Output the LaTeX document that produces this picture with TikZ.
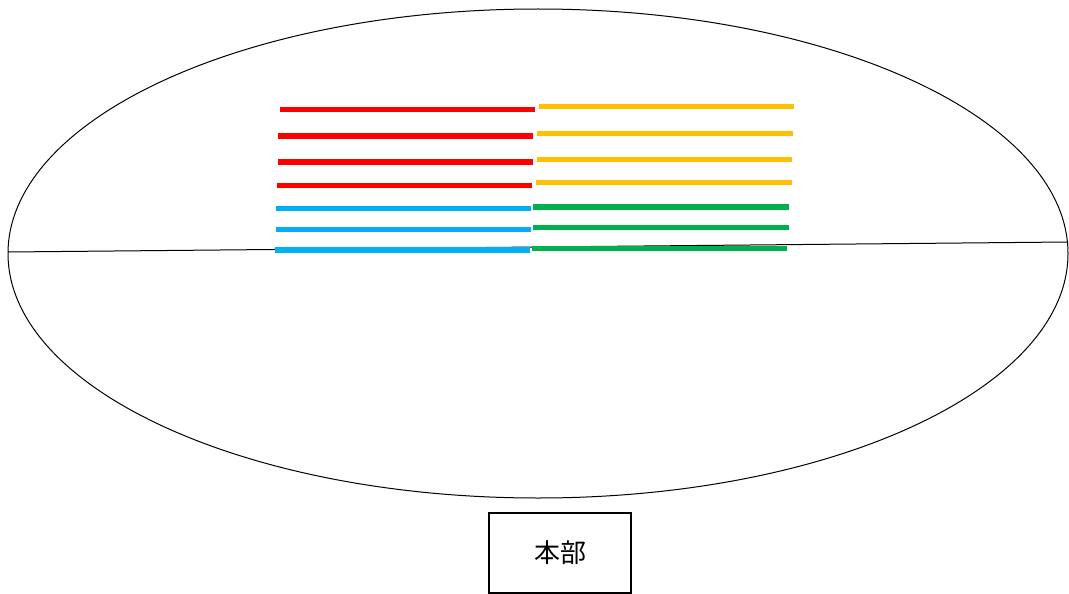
\documentclass[tikz,border=0pt]{standalone}
\usepackage{fontspec}
\newfontfamily\cjk{Noto Sans CJK JP}
\usetikzlibrary{positioning}
\definecolor{barred}{HTML}{FF0000}
\definecolor{baryellow}{HTML}{FFC000}
\definecolor{barblue}{HTML}{00B0F0}
\definecolor{bargreen}{HTML}{00B050}

\begin{document}
\begin{tikzpicture}[x=1pt,y=-1pt]
\tikzstyle{bar}=[line width=5.5pt]
\tikzstyle{hqbox}=[draw,line width=1.5pt,minimum width=142pt,minimum height=80pt,inner sep=0pt]

\useasboundingbox (0,0) rectangle (1069,594);

\draw[line width=1pt] (538,253.5) ellipse [x radius=530pt, y radius=244.5pt];
\coordinate (west) at (8,252);
\coordinate (east) at (1068,242);
\draw[line width=1pt] (west) -- (east);

% left block
\draw[bar,barred] (280,109.5) -- (535,109.5);
\draw[bar,barred] (278,136) -- (533,136);
\draw[bar,barred] (278,162) -- (533,162);
\draw[bar,barred] (277,185.3) -- (532,185.3);
\draw[bar,barblue] (276,208.7) -- (531,208.7);
\draw[bar,barblue] (276,229.3) -- (531,229.3);
\draw[bar,barblue] (275,250) -- (530,250);

% right block
\draw[bar,baryellow] (539,106.7) -- (794,106.7);
\draw[bar,baryellow] (537,133.3) -- (792.7,133.3);
\draw[bar,baryellow] (537,159.3) -- (792,159.3);
\draw[bar,baryellow] (536.3,182.3) -- (792,182.3);
\draw[bar,bargreen] (533,207) -- (788.7,207);
\draw[bar,bargreen] (533,227.3) -- (789,227.3);
\draw[bar,bargreen] (532,248.3) -- (787,248.3);

\node[hqbox] (hq) at (560,553) {\cjk\fontsize{26}{26}\selectfont\raisebox{3pt}{本部}};
\end{tikzpicture}
\end{document}
